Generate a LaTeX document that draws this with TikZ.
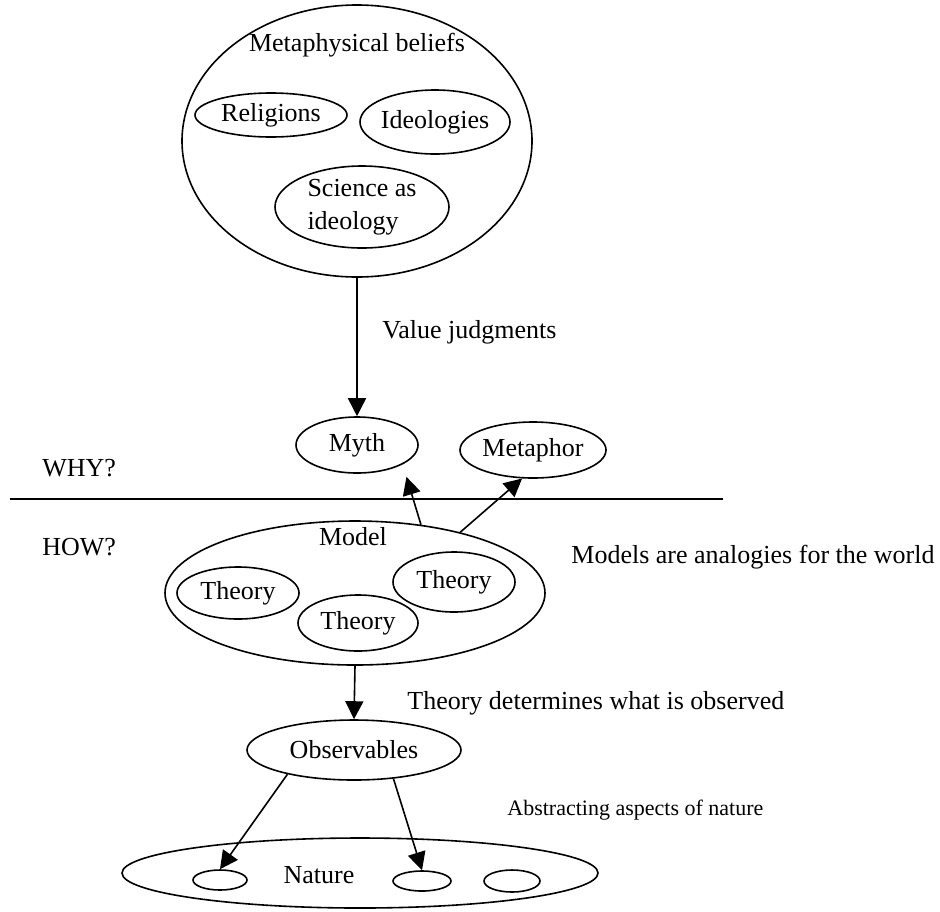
\documentclass[tikz,border=0pt]{standalone}
\usepackage{fontspec}
\setmainfont{Liberation Serif}
\usetikzlibrary{shapes.geometric, arrows.meta}

\begin{document}
\begin{tikzpicture}[
    x=0.5pt, y=-0.5pt,
    font=\fontsize{13}{16.5}\selectfont,
    >={Triangle[length=9pt, width=9pt]},
    blob/.style={draw, ellipse, line width=0.8pt, inner sep=0pt},
    txt/.style={inner sep=0pt, anchor=west},
    flow/.style={->, line width=0.8pt}
]
    \useasboundingbox (0,0) rectangle (940,911);

    \node (meta) [blob, minimum width=175pt, minimum height=136pt] at (357,141) {};
    \node (metatext) at (357,45) {Metaphysical beliefs};
    \node (relig) [blob, minimum width=76pt, minimum height=22pt, label=center:Religions] at (271,115) {};
    \node (ideol) [blob, minimum width=75pt, minimum height=32pt, label=center:Ideologies] at (435,122) {};
    \node (science) [blob, minimum width=87pt, minimum height=41pt, align=left] at (362,207) {Science as\\ideology};

    \node (judge) [txt] at (382,332) {Value judgments};
    \node (myth) [blob, minimum width=61pt, minimum height=28pt] at (357,445) {Myth};
    \node (metaphor) [blob, minimum width=73pt, minimum height=28pt] at (533,450) {Metaphor};

    \node (why) [txt] at (42,468) {WHY?};
    \node (how) [txt] at (42,547) {HOW?};
    \draw [line width=0.8pt] (10,499) -- (723,499);

    \node (model) [blob, minimum width=190pt, minimum height=72pt] at (355,593) {};
    \node (modeltext) at (353,537) {Model};
    \node (th1) [blob, minimum width=61pt, minimum height=26pt] at (238,593) {Theory};
    \node (th2) [blob, minimum width=60pt, minimum height=28pt] at (358,623) {Theory};
    \node (th3) [blob, minimum width=61pt, minimum height=30pt] at (454,582) {Theory};
    \node (analog) [txt] at (571,557) {Models are analogies for the world};

    \node (obs) [blob, minimum width=107pt, minimum height=30pt] at (354,750) {Observables};
    \node (determ) [txt] at (407,703) {Theory determines what is observed};
    \node (abstr) [txt, font=\fontsize{11}{13}\selectfont] at (507,810) {Abstracting aspects of nature};

    \node (nature) [blob, minimum width=238pt, minimum height=35pt] at (360,873) {};
    \node (naturetext) at (319,875) {Nature};
    \node (asp1) [blob, minimum width=27pt, minimum height=10pt] at (220,880) {};
    \node (asp2) [blob, minimum width=29pt, minimum height=10pt] at (422,881) {};
    \node (asp3) [blob, minimum width=28pt, minimum height=11pt] at (512,881) {};

    \draw [flow] (meta.south) -- (myth.north);
    \draw [flow, shorten >=6.5pt] (model.46) -- (myth.-23);
    \draw [flow] (model.30) -- (metaphor.-111);
    \draw [flow] (model.south) -- (obs.north);
    \draw [flow] (obs.-160) -- (asp1.north);
    \draw [flow] (obs.-36) -- (asp2.north);
\end{tikzpicture}
\end{document}
